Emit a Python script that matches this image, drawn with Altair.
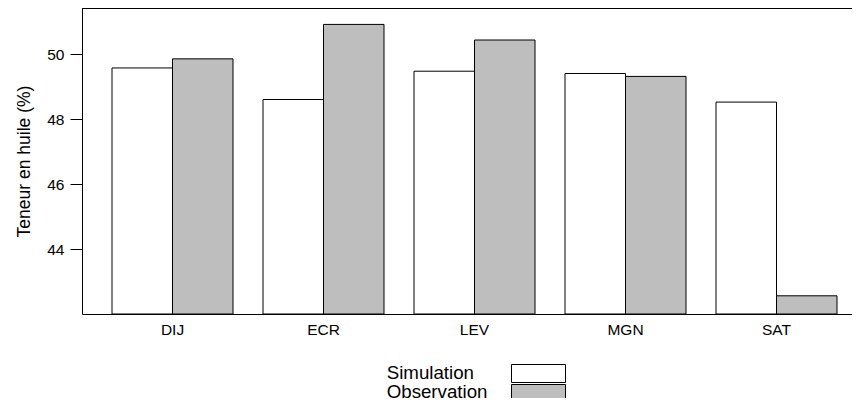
import altair as alt
import pandas as pd

sites = ["DIJ", "ECR", "LEV", "MGN", "SAT"]
series = ["Simulation", "Observation"]
simulation = [49.58, 48.61, 49.48, 49.41, 48.53]
observation = [49.86, 50.92, 50.44, 49.32, 42.57]
y_ticks = [44, 46, 48, 50]
y_title = "Teneur en huile (%)"
y_min, y_max = 42.01, 51.425

rows = []
for s, a, b in zip(sites, simulation, observation):
    rows.append({"site": s, "series": "Simulation", "label": "Simulation", "value": a})
    rows.append({"site": s, "series": "Observation", "label": "Observation", "value": b})
df = pd.DataFrame(rows)

FONT = "Liberation Sans"
W, H = 770, 306

bars = alt.Chart(df).mark_bar(stroke="black", strokeWidth=1).encode(
    x=alt.X(
        "site:N",
        sort=sites,
        title=None,
        scale=alt.Scale(paddingInner=30 / 151, paddingOuter=30 / 151, range=[0, 785]),
        axis=alt.Axis(
            labelAngle=0, ticks=False, tickSize=0, domain=True, domainColor="black",
            domainWidth=1,
            labelFontSize=15.5, labelPadding=8, labelFont=FONT, labelColor="black",
        ),
    ),
    xOffset=alt.XOffset("series:N", sort=series),
    y=alt.Y(
        "value:Q",
        title=y_title,
        scale=alt.Scale(domain=[y_min, y_max], nice=False, zero=False),
        axis=alt.Axis(
            values=y_ticks, grid=False, domain=True, domainColor="black", domainWidth=1,
            tickSize=12, tickColor="black",
            labelFontSize=15.5, labelPadding=6, labelFont=FONT, labelColor="black",
            titleFontSize=17.5, titleFont=FONT, titleFontWeight="normal",
            titleColor="black", titlePadding=13,
        ),
    ),
    y2=alt.datum(y_min),
    fill=alt.Fill(
        "series:N",
        sort=series,
        scale=alt.Scale(domain=series, range=["white", "#bebebe"]),
        legend=alt.Legend(
            orient="none", legendX=429, legendY=356, title=None,
            symbolType="M-1,-1H5V1H-1Z", symbolSize=324,
            symbolStrokeColor="black", symbolStrokeWidth=1, symbolOpacity=1,
            labelFontSize=18.7, labelColor="transparent", labelOffset=0,
            clipHeight=19, rowPadding=0, padding=0,
        ),
    ),
    opacity=alt.Opacity(
        "label:N",
        sort=series,
        scale=alt.Scale(range=[1, 1]),
        legend=alt.Legend(
            orient="none", legendX=286, legendY=356, title=None,
            symbolSize=0, symbolStrokeWidth=0, symbolOpacity=0,
            labelFontSize=18.7, labelFont=FONT, labelColor="black",
            labelOffset=0, labelAlign="left", clipHeight=18.5, rowPadding=0, padding=0,
        ),
    ),
)

top_line = alt.Chart(df).mark_rule(color="black", strokeWidth=1).encode(
    x=alt.value(0), x2=alt.value(W), y=alt.value(0)
)

chart = alt.layer(bars, top_line).properties(
    width=W,
    height=H,
    autosize=alt.AutoSizeParams(type="none"),
    padding={"left": 74, "top": 0, "right": 0, "bottom": 84},
).configure_view(stroke="transparent", strokeWidth=0)

chart.save("out.html", embed_options={"renderer": "svg", "actions": False})
